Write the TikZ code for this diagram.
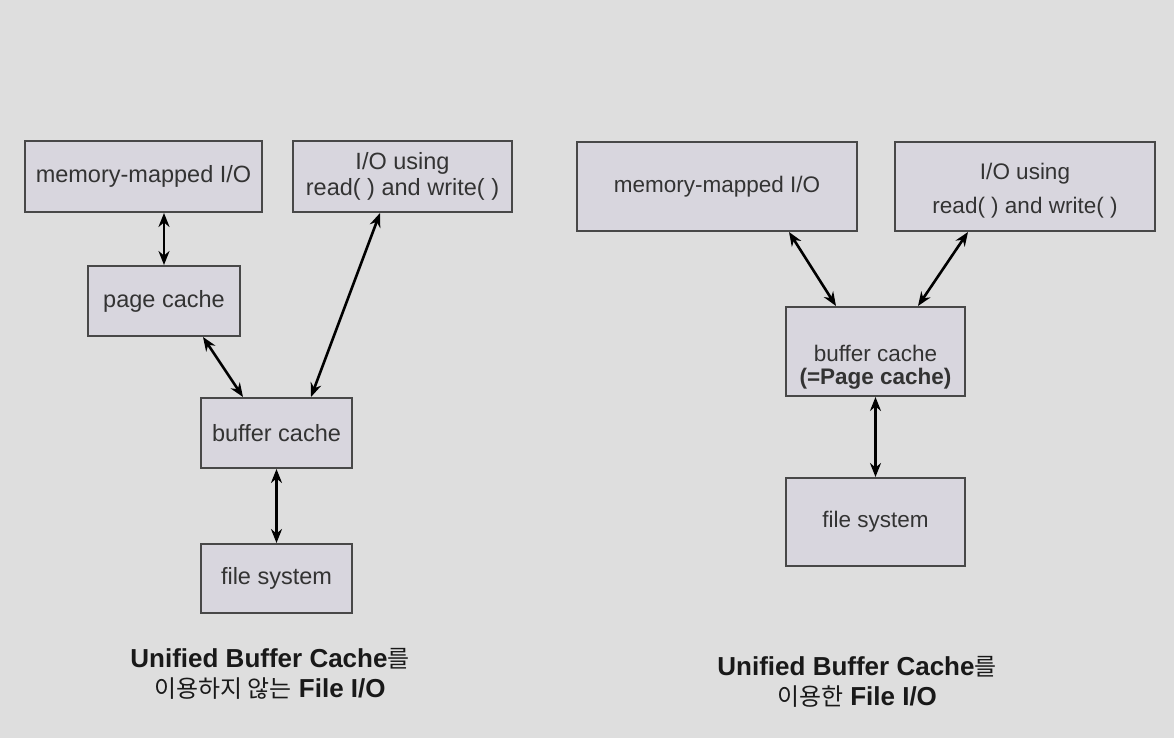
\documentclass[tikz,border=0pt]{standalone}
\usepackage{fontspec}
\setmainfont{Liberation Sans}
\newfontfamily\kr[Scale=0.92]{Noto Sans CJK KR}
\usetikzlibrary{arrows.meta}
\definecolor{bgcol}{HTML}{DEDEDE}
\definecolor{boxfill}{HTML}{D8D6DE}
\definecolor{boxline}{HTML}{484848}
\definecolor{boxtext}{HTML}{333333}
\begin{document}
\begin{tikzpicture}[x=1pt, y=-1pt,
    cachebox/.style={draw=boxline, line width=2pt, fill=boxfill, text=boxtext,
        align=center, inner sep=0pt},
    lfont/.style={font=\fontsize{23.5}{26}\selectfont},
    rfont/.style={font=\fontsize{22.5}{34}\selectfont},
    link/.style={{Stealth[length=14pt,width=11pt]}-{Stealth[length=14pt,width=11pt]}, line width=2.6pt, black},
    caption/.style={align=center, text=black!90, font=\fontsize{26}{30}\selectfont}]
    % background and page size
    \fill[bgcol] (0,0) rectangle (1174,738);
    \useasboundingbox (0,0) rectangle (1174,738);

    % Left: without unified buffer cache
    \node[cachebox, lfont, minimum width=237pt, minimum height=71pt] (lmm) at (143.5,176.5) {memory-mapped I/O};
    \node[cachebox, lfont, minimum width=219pt, minimum height=71pt] (lio) at (402.5,176.5) {I/O using\\read( ) and write( )};
    \node[cachebox, lfont, minimum width=152pt, minimum height=70pt] (lpage) at (164,301) {page cache};
    \node[cachebox, lfont, minimum width=151pt, minimum height=70pt] (lbuf) at (276.5,433) {buffer cache};
    \node[cachebox, lfont, minimum width=151pt, minimum height=69pt] (lfs) at (276.5,578.5) {file system};

    \draw[link] (lpage.north |- lmm.south) -- (lpage.north);
    \draw[link] ([xshift=39pt]lpage.south) -- ([xshift=-33.5pt]lbuf.north);
    \draw[link] ([xshift=34.5pt]lbuf.north) -- ([xshift=-22.5pt]lio.south);
    \draw[link] (lbuf.south) -- (lfs.north);

    \node[caption] (lcap) at (270,674) {\textbf{Unified Buffer Cache}{\kr 를}\\{\kr 이용하지 않는} \textbf{File I/O}};

    % Right: with unified buffer cache
    \node[cachebox, rfont, minimum width=280pt, minimum height=89pt] (rmm) at (717,186.5) {memory-mapped I/O};
    \node[cachebox, minimum width=260pt, minimum height=89pt] (rio) at (1025,186.5) {};
    \node[align=center, text=boxtext, rfont] (riotext) at ([yshift=-4pt]rio.center) {I/O using\\read( ) and write( )};
    \node[cachebox, minimum width=179pt, minimum height=89pt] (rbuf) at (875.5,351.5) {};
    \node[align=center, text=boxtext, font=\fontsize{22.5}{23}\selectfont] (rbuftext) at ([yshift=-16pt]rbuf.center) {buffer cache\\\textbf{(=Page cache)}};
    \node[cachebox, rfont, minimum width=179pt, minimum height=88pt] (rfs) at (875.5,522) {file system};

    \draw[link] ([xshift=72pt]rmm.south) -- ([xshift=-39.5pt]rbuf.north);
    \draw[link] ([xshift=-57pt]rio.south) -- ([xshift=42.5pt]rbuf.north);
    \draw[link] (rbuf.south) -- (rfs.north);

    \node[caption] (rcap) at (857,682) {\textbf{Unified Buffer Cache}{\kr 를}\\{\kr 이용한} \textbf{File I/O}};
\end{tikzpicture}
\end{document}
